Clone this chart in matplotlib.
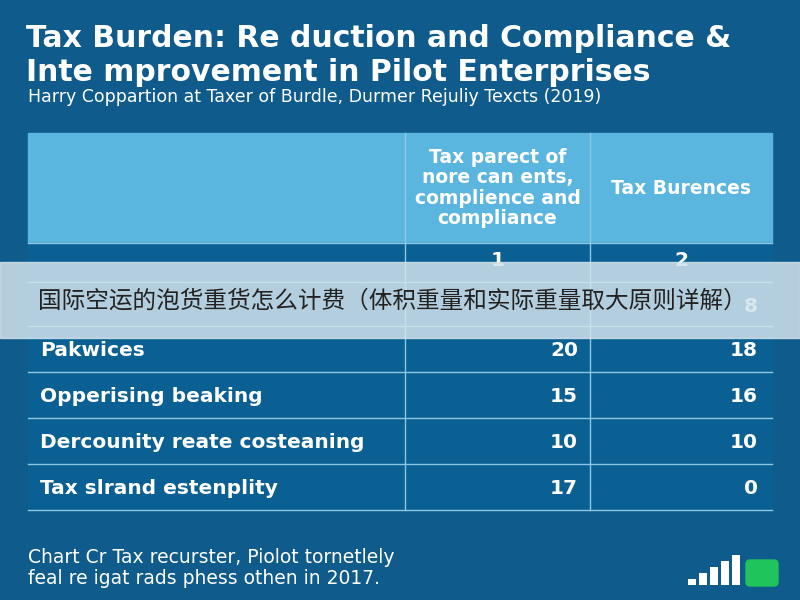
import matplotlib
matplotlib.use("Agg")
import matplotlib.pyplot as plt
from matplotlib.patches import Rectangle, FancyBboxPatch

title = "Tax Burden: Re duction and Compliance &\nInte mprovement in Pilot Enterprises"
subtitle = "Harry Coppartion at Taxer of Burdle, Durmer Rejuliy Texcts (2019)"
col_headers = ["Tax parect of\nnore can ents,\ncomplience and\ncompliance", "Tax Burences"]
row_labels = ["", "", "Pakwices", "Opperising beaking", "Dercounity reate costeaning", "Tax slrand estenplity"]
col1 = ["1", "", "20", "15", "10", "17"]
col2 = ["2", "8", "18", "16", "10", "0"]
footer = "Chart Cr Tax recurster, Piolot tornetlely\nfeal re igat rads phess othen in 2017."
banner = "国际空运的泡货重货怎么计费（体积重量和实际重量取大原则详解）"
icon_heights = [1, 2, 3, 4, 5]

plt.rcParams['font.family'] = ['DejaVu Sans']
fig = plt.figure(figsize=(8, 6), dpi=100)
ax = fig.add_axes([0, 0, 1, 1])
ax.set_xlim(0, 800); ax.set_ylim(600, 0); ax.axis('off')
bg = "#0e5b8c"
ax.add_patch(Rectangle((0, 0), 800, 600, color=bg))

ax.text(26, 24, title, color="white", fontsize=21.5, fontweight="bold", va="top", linespacing=1.2)
ax.text(28, 97, subtitle, color="white", fontsize=12.5, va="center")

x0, x1, x2, x3 = 28, 405, 590, 772
hy0, hy1 = 133, 243
ax.add_patch(Rectangle((x0, hy0), x3 - x0, hy1 - hy0, color="#5ab6df"))
ax.add_patch(Rectangle((x0, hy1), x3 - x0, 510 - hy1, color="#0a5f93"))
ax.text((x1 + x2) / 2, (hy0 + hy1) / 2, col_headers[0], color="white", fontsize=13.5,
        fontweight="bold", ha="center", va="center", linespacing=1.1)
ax.text((x2 + x3) / 2, (hy0 + hy1) / 2, col_headers[1], color="white", fontsize=13.5,
        fontweight="bold", ha="center", va="center")
row_edges = [243, 282, 326, 372, 418, 464, 510]
lc = "#8cc8e6"
for y in row_edges:
    ax.plot([x0, x3], [y, y], color=lc, lw=1)
for x in [x1, x2]:
    ax.plot([x, x], [hy0, 510], color=lc, lw=1)
for i, (lab, a, b) in enumerate(zip(row_labels, col1, col2)):
    yc = (row_edges[i] + row_edges[i + 1]) / 2 + (-2 if i == 0 else 2)
    ax.text(40, yc, lab, color="white", fontsize=14.5, va="center", fontweight="semibold")
    if i == 0:
        ax.text((x1 + x2) / 2, yc, a, color="white", fontsize=14.5, va="center", ha="center", fontweight="semibold")
        ax.text((x2 + x3) / 2, yc, b, color="white", fontsize=14.5, va="center", ha="center", fontweight="semibold")
    else:
        ax.text(578, yc, a, color="white", fontsize=14.5, va="center", ha="right", fontweight="semibold")
        ax.text(758, yc, b, color="white", fontsize=14.5, va="center", ha="right", fontweight="semibold")

ax.add_patch(Rectangle((0, 262), 800, 76, color="#d2e3ec", alpha=0.85, zorder=5))
ax.text(38, 301, banner, color="#222222", fontsize=17, va="center", zorder=6,
        family=['Noto Sans CJK SC', 'DejaVu Sans'])

ax.text(28, 568, footer, color="white", fontsize=13.5, va="center", linespacing=1.1)

xs = [688, 699, 710, 721, 732]
ax.bar(xs, [h * 6 for h in icon_heights], bottom=[585 - h * 6 for h in icon_heights],
       width=8, color="white", align="edge")
ax.add_patch(FancyBboxPatch((746, 560), 32, 26, boxstyle="round,pad=0,rounding_size=4",
                            color="#1fc45a"))
fig.savefig("out.png", dpi=100)
